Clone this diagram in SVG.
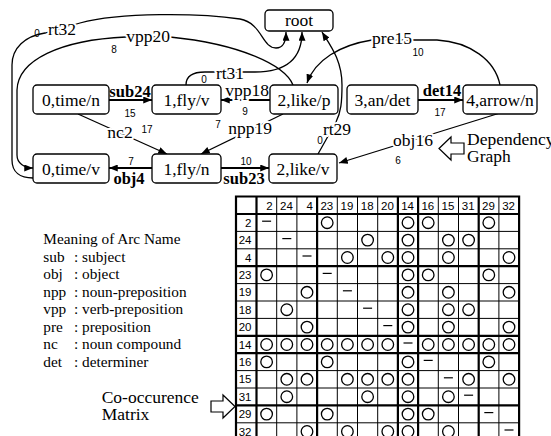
<svg xmlns="http://www.w3.org/2000/svg" width="551" height="436" viewBox="0 0 551 436">
  <style>
    .node rect { fill: #fff; stroke: #000; stroke-width: 1.3; }
    .node text { font-family: "Liberation Serif", "Times New Roman", serif; font-size: 17.5px; text-anchor: middle; fill: #000; }
    .edge { fill: none; stroke: #000; stroke-width: 1.3; }
    .edge.main { stroke-width: 2; }
    .lbl { font-family: "Liberation Serif", "Times New Roman", serif; font-size: 17.5px; text-anchor: middle; fill: #000; stroke: #fff; stroke-width: 4; paint-order: stroke; stroke-linejoin: round; }
    .bold { font-weight: bold; font-size: 16.5px; stroke: none; }
    .num { font-family: "Liberation Sans", Arial, sans-serif; font-size: 10px; text-anchor: middle; fill: #000; }
    .legend { font-family: "Liberation Serif", "Times New Roman", serif; font-size: 15.3px; fill: #000; }
    .caption { font-family: "Liberation Serif", "Times New Roman", serif; font-size: 17.5px; fill: #000; }
    .hollow { fill: #fff; stroke: #000; stroke-width: 1.2; }
    .grid { fill: none; stroke: #000; stroke-width: 1; }
    .thick { fill: none; stroke: #000; stroke-width: 2.2; }
    .mt { font-family: "Liberation Sans", Arial, sans-serif; font-size: 11.5px; fill: #000; text-anchor: end; }
    .o { fill: none; stroke: #000; stroke-width: 1.3; }
    .d { stroke: #000; stroke-width: 1.2; }
  </style>
  <defs>
    <marker id="ah" viewBox="0 0 10 8" refX="10" refY="4" markerWidth="9" markerHeight="7" orient="auto" markerUnits="userSpaceOnUse">
      <path d="M0,0 L10,4 L0,8 z" fill="#000"/>
    </marker>
    <circle id="o" r="5.8" class="o"/>
    <line id="d" x1="-4.5" y1="-1.5" x2="4.5" y2="-1.5" class="d"/>
  </defs>
  <rect width="551" height="436" fill="#fff"/>

  <!-- dependency arcs -->
  <g id="connectors">
    <path class="edge main" d="M109,100 L152,100" marker-end="url(#ah)"/>
    <path class="edge main" d="M270,100 L221,100" marker-end="url(#ah)"/>
    <path class="edge main" d="M418,100 L463,100" marker-end="url(#ah)"/>
    <path class="edge main" d="M152,168 L109,168" marker-end="url(#ah)"/>
    <path class="edge main" d="M221,168 L269,168" marker-end="url(#ah)"/>
    <path class="edge" d="M78,114 L167,154" marker-end="url(#ah)"/>
    <path class="edge" d="M283,114 L201,154" marker-end="url(#ah)"/>
    <path class="edge" d="M500,113 L339,163" marker-end="url(#ah)"/>
    <!-- rt32 -->
    <path class="edge" d="M33,178 C20,178 12,172 12,160 L12,65 C12,48 25,36 45,33 L80,23 C120,12 200,13 240,19 C262,23 262,48 276,48 C283,48 286,42 286,32" marker-end="url(#ah)"/>
    <!-- vpp20 -->
    <path class="edge" d="M293,85 C285,65 240,44 170,37 L126,37 C60,40 18,60 17,90 L17,155 C17,163 24,168 33,168" marker-end="url(#ah)"/>
    <!-- rt31 -->
    <path class="edge" d="M186,85 C186,76 192,72 205,72 L255,72 C285,72 302,60 302,32" marker-end="url(#ah)"/>
    <!-- pre15 -->
    <path class="edge" d="M500,85 C495,60 470,42 437,40 L372,40 C340,45 315,60 307,83" marker-end="url(#ah)"/>
    <!-- rt29 -->
    <path class="edge" d="M318,154 L336,122 C341,112 342,102 342,85 C342,60 330,45 322,32" marker-end="url(#ah)"/>
  </g>

  <!-- arc labels -->
  <g id="arc-labels">
    <text class="lbl" x="62" y="35">rt32</text>
    <text class="lbl" x="148" y="42">vpp20</text>
    <text class="lbl" x="230" y="79">rt31</text>
    <text class="lbl" x="392" y="44">pre15</text>
    <text class="lbl" x="120" y="138">nc2</text>
    <text class="lbl" x="250" y="134">npp19</text>
    <text class="lbl" x="337" y="135">rt29</text>
    <text class="lbl" x="413" y="146">obj16</text>
    <text class="lbl" x="247" y="96">vpp18</text>
    <text class="lbl bold" x="130" y="97">sub24</text>
    <text class="lbl bold" x="442" y="96">det14</text>
    <text class="lbl bold" x="129" y="184">obj4</text>
    <text class="lbl bold" x="244" y="184">sub23</text>
    <text class="num" x="37" y="37">0</text>
    <text class="num" x="114" y="53">8</text>
    <text class="num" x="204" y="83">0</text>
    <text class="num" x="130" y="117">15</text>
    <text class="num" x="245" y="115">9</text>
    <text class="num" x="147" y="133">17</text>
    <text class="num" x="218" y="128">7</text>
    <text class="num" x="131" y="165">7</text>
    <text class="num" x="246" y="165">10</text>
    <text class="num" x="418" y="56">10</text>
    <text class="num" x="440" y="116">17</text>
    <text class="num" x="320" y="144">0</text>
    <text class="num" x="398" y="164">6</text>
  </g>

  <!-- nodes -->
  <g id="root" class="node"><rect x="265" y="10" width="68" height="21" rx="4"/><text x="299" y="26">root</text></g>
  <g id="n0-time-n" class="node"><rect x="33" y="85" width="76" height="29" rx="4"/><text x="71" y="105.5">0,time/n</text></g>
  <g id="n1-fly-v" class="node"><rect x="152" y="85" width="69" height="29" rx="4"/><text x="186.5" y="105.5">1,fly/v</text></g>
  <g id="n2-like-p" class="node"><rect x="270" y="85" width="68" height="29" rx="4"/><text x="304" y="105.5">2,like/p</text></g>
  <g id="n3-an-det" class="node"><rect x="347" y="85" width="71" height="29" rx="4"/><text x="382.5" y="105.5">3,an/det</text></g>
  <g id="n4-arrow-n" class="node"><rect x="463" y="85" width="74" height="29" rx="4"/><text x="500" y="105.5">4,arrow/n</text></g>
  <g id="n0-time-v" class="node"><rect x="33" y="154" width="76" height="29" rx="4"/><text x="71" y="174.5">0,time/v</text></g>
  <g id="n1-fly-n" class="node"><rect x="152" y="154" width="69" height="29" rx="4"/><text x="186.5" y="174.5">1,fly/n</text></g>
  <g id="n2-like-v" class="node"><rect x="269" y="154" width="68" height="29" rx="4"/><text x="303" y="174.5">2,like/v</text></g>

  <!-- graph caption -->
  <g id="graph-caption">
    <polygon class="hollow" points="439,148.5 451,137 451,143 464,143 464,154 451,154 451,160"/>
    <text class="caption" x="467" y="144.5">Dependency</text>
    <text class="caption" x="467" y="162">Graph</text>
  </g>

  <!-- legend -->
  <g id="legend" class="legend">
    <text x="43.3" y="243.5">Meaning of Arc Name</text>
    <text x="43.3" y="261.5">sub</text><text x="74" y="261.5">: subject</text>
    <text x="43.3" y="279">obj</text><text x="74" y="279">: object</text>
    <text x="43.3" y="296.5">npp</text><text x="74" y="296.5">: noun-preposition</text>
    <text x="43.3" y="314">vpp</text><text x="74" y="314">: verb-preposition</text>
    <text x="43.3" y="331.5">pre</text><text x="74" y="331.5">: preposition</text>
    <text x="43.3" y="349">nc</text><text x="74" y="349">: noun compound</text>
    <text x="43.3" y="366.5">det</text><text x="74" y="366.5">: determiner</text>
  </g>

  <!-- matrix caption -->
  <g id="matrix-caption">
    <text class="caption" x="101.7" y="403">Co-occurence</text>
    <text class="caption" x="101.7" y="419.5">Matrix</text>
    <polygon class="hollow" points="235,406.5 223,395 223,401 211,401 211,412 223,412 223,418"/>
  </g>

  <!-- co-occurrence matrix -->
  <g id="matrix">
    <g id="matrix-grid">
      <!-- thin grid -->
      <path class="grid" d="M276.7,196.5V440 M296.9,196.5V440 M337.3,196.5V440 M357.5,196.5V440 M377.7,196.5V440 M438.3,196.5V440 M458.5,196.5V440 M498.9,196.5V440
        M236,231.4H519.1 M236,248.8H519.1 M236,283.6H519.1 M236,301H519.1 M236,318.4H519.1 M236,370.6H519.1 M236,388H519.1 M236,422.8H519.1"/>
      <!-- group separators -->
      <path class="thick" d="M256.5,196.5V440 M317.1,196.5V440 M397.9,196.5V440 M418.1,196.5V440 M478.7,196.5V440
        M236,214H519.1 M236,266.2H519.1 M236,335.8H519.1 M236,353.2H519.1 M236,405.4H519.1"/>
      <!-- outer frame -->
      <path class="thick" d="M236,440V196.5H519.1V440"/>
    </g>
    <g id="matrix-heads" class="mt">
      <text x="272.6" y="210">2</text><text x="292.8" y="210">24</text><text x="313" y="210">4</text>
      <text x="333.2" y="210">23</text><text x="353.4" y="210">19</text><text x="373.6" y="210">18</text>
      <text x="393.8" y="210">20</text><text x="414" y="210">14</text><text x="434.2" y="210">16</text>
      <text x="454.4" y="210">15</text><text x="474.6" y="210">31</text><text x="494.8" y="210">29</text>
      <text x="515" y="210">32</text>
      <text x="251.5" y="226.8">2</text><text x="251.5" y="244.2">24</text><text x="251.5" y="261.6">4</text>
      <text x="251.5" y="279">23</text><text x="251.5" y="296.4">19</text><text x="251.5" y="313.8">18</text>
      <text x="251.5" y="331.2">20</text><text x="251.5" y="348.6">14</text><text x="251.5" y="366">16</text>
      <text x="251.5" y="383.4">15</text><text x="251.5" y="400.8">31</text><text x="251.5" y="418.2">29</text>
      <text x="251.5" y="435.6">32</text>
    </g>
    <g id="matrix-cells">
      <!-- row 2 -->
      <use href="#d" x="266.6" y="222.7"/><use href="#o" x="327.2" y="222.7"/><use href="#o" x="408" y="222.7"/><use href="#o" x="428.2" y="222.7"/><use href="#o" x="488.8" y="222.7"/>
      <!-- row 24 -->
      <use href="#d" x="286.8" y="240.1"/><use href="#o" x="367.6" y="240.1"/><use href="#o" x="408" y="240.1"/><use href="#o" x="448.4" y="240.1"/><use href="#o" x="468.6" y="240.1"/>
      <!-- row 4 -->
      <use href="#d" x="307" y="257.5"/><use href="#o" x="347.4" y="257.5"/><use href="#o" x="387.8" y="257.5"/><use href="#o" x="408" y="257.5"/><use href="#o" x="448.4" y="257.5"/><use href="#o" x="509" y="257.5"/>
      <!-- row 23 -->
      <use href="#o" x="266.6" y="274.9"/><use href="#d" x="327.2" y="274.9"/><use href="#o" x="408" y="274.9"/><use href="#o" x="428.2" y="274.9"/><use href="#o" x="488.8" y="274.9"/>
      <!-- row 19 -->
      <use href="#o" x="307" y="292.3"/><use href="#d" x="347.4" y="292.3"/><use href="#o" x="408" y="292.3"/><use href="#o" x="448.4" y="292.3"/><use href="#o" x="509" y="292.3"/>
      <!-- row 18 -->
      <use href="#o" x="286.8" y="309.7"/><use href="#d" x="367.6" y="309.7"/><use href="#o" x="408" y="309.7"/><use href="#o" x="448.4" y="309.7"/><use href="#o" x="468.6" y="309.7"/>
      <!-- row 20 -->
      <use href="#o" x="307" y="327.1"/><use href="#d" x="387.8" y="327.1"/><use href="#o" x="408" y="327.1"/><use href="#o" x="448.4" y="327.1"/><use href="#o" x="509" y="327.1"/>
      <!-- row 14 -->
      <use href="#o" x="266.6" y="344.5"/><use href="#o" x="286.8" y="344.5"/><use href="#o" x="307" y="344.5"/><use href="#o" x="327.2" y="344.5"/><use href="#o" x="347.4" y="344.5"/><use href="#o" x="367.6" y="344.5"/><use href="#o" x="387.8" y="344.5"/><use href="#d" x="408" y="344.5"/><use href="#o" x="428.2" y="344.5"/><use href="#o" x="448.4" y="344.5"/><use href="#o" x="468.6" y="344.5"/><use href="#o" x="488.8" y="344.5"/><use href="#o" x="509" y="344.5"/>
      <!-- row 16 -->
      <use href="#o" x="266.6" y="361.9"/><use href="#o" x="327.2" y="361.9"/><use href="#o" x="408" y="361.9"/><use href="#d" x="428.2" y="361.9"/><use href="#o" x="488.8" y="361.9"/>
      <!-- row 15 -->
      <use href="#o" x="286.8" y="379.3"/><use href="#o" x="307" y="379.3"/><use href="#o" x="347.4" y="379.3"/><use href="#o" x="367.6" y="379.3"/><use href="#o" x="387.8" y="379.3"/><use href="#o" x="408" y="379.3"/><use href="#d" x="448.4" y="379.3"/><use href="#o" x="468.6" y="379.3"/><use href="#o" x="509" y="379.3"/>
      <!-- row 31 -->
      <use href="#o" x="286.8" y="396.7"/><use href="#o" x="367.6" y="396.7"/><use href="#o" x="408" y="396.7"/><use href="#o" x="448.4" y="396.7"/><use href="#d" x="468.6" y="396.7"/>
      <!-- row 29 -->
      <use href="#o" x="266.6" y="414.1"/><use href="#o" x="327.2" y="414.1"/><use href="#o" x="408" y="414.1"/><use href="#o" x="428.2" y="414.1"/><use href="#d" x="488.8" y="414.1"/>
      <!-- row 32 -->
      <use href="#o" x="307" y="431.5"/><use href="#o" x="347.4" y="431.5"/><use href="#o" x="387.8" y="431.5"/><use href="#o" x="408" y="431.5"/><use href="#o" x="448.4" y="431.5"/><use href="#d" x="509" y="431.5"/>
    </g>
  </g>
</svg>
